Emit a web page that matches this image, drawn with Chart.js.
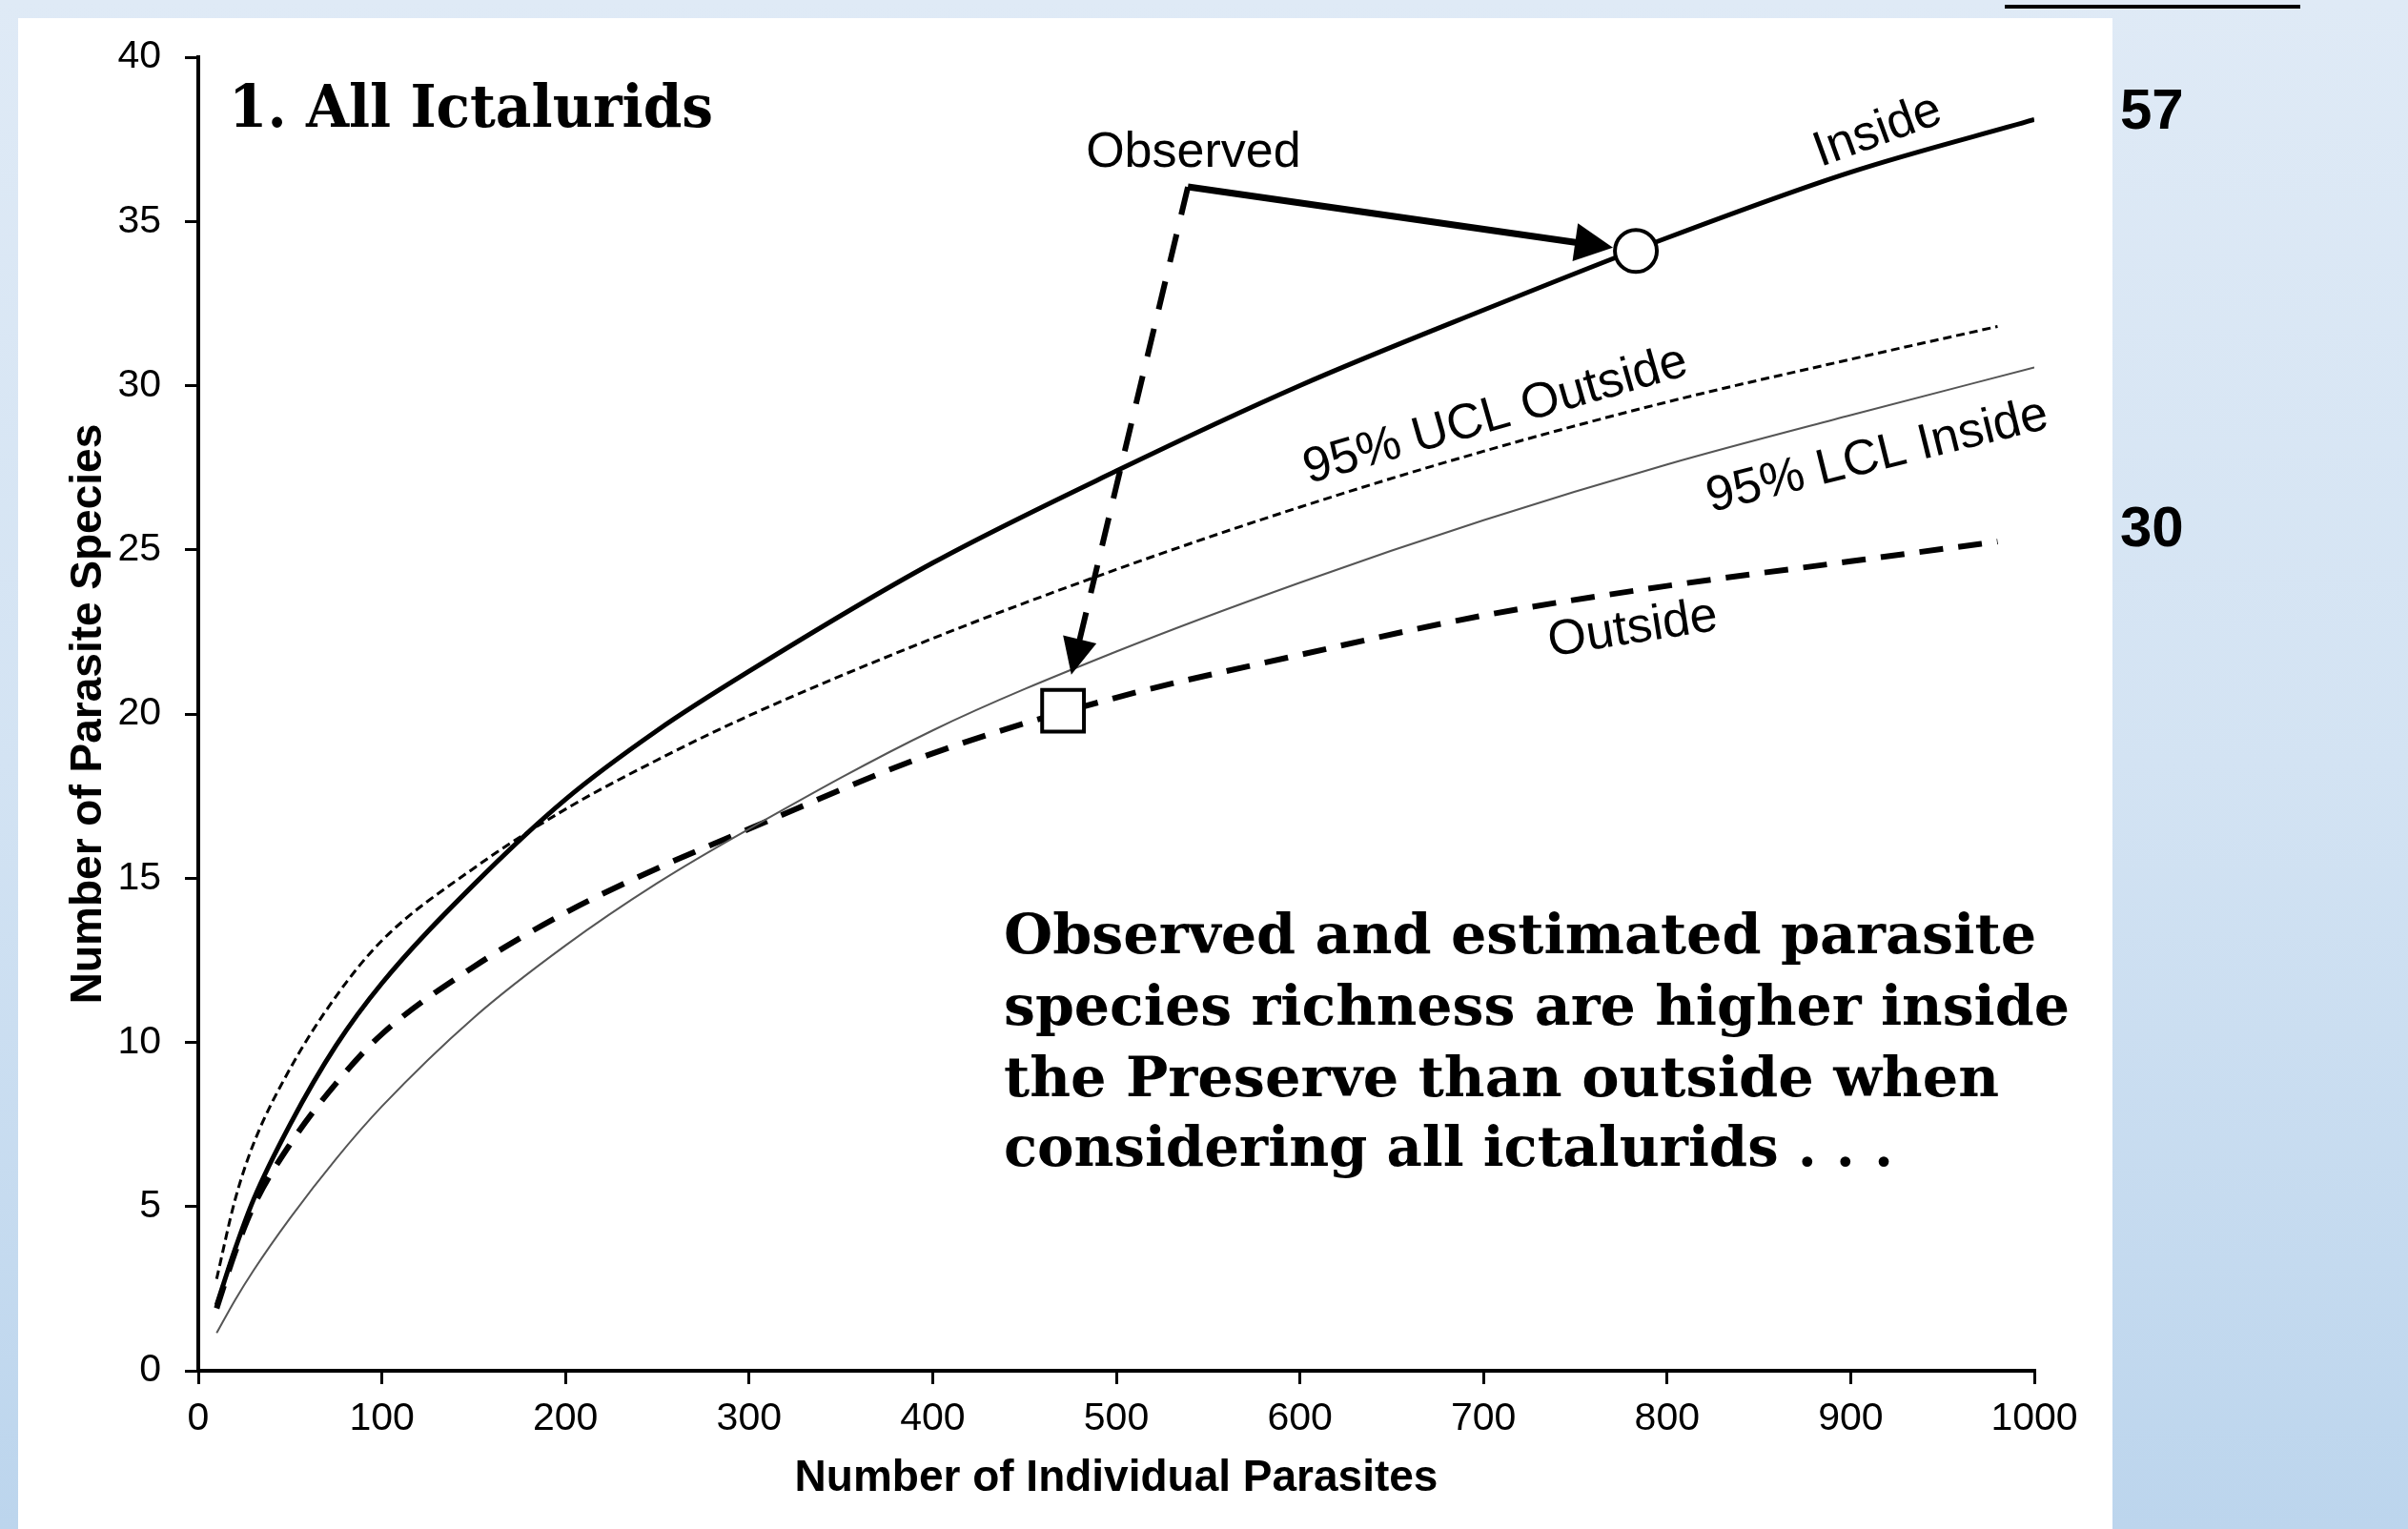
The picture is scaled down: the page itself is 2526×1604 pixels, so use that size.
<!DOCTYPE html>
<html>
<head>
<meta charset="utf-8">
<title>1. All Ictalurids</title>
<script src="https://cdn.jsdelivr.net/npm/chart.js@4.4.1/dist/chart.umd.min.js"></script>
<style>
  html, body { margin: 0; padding: 0; }
  body {
    width: 2526px; height: 1604px; position: relative; overflow: hidden;
    background: linear-gradient(to bottom, #dfeaf6 0%, #d3e3f3 50%, #bcd5ed 100%);
  }
  .top-rule { position: absolute; left: 2103px; top: 5px; width: 310px; height: 4px; background: #000; }
  .panel { position: absolute; left: 19px; top: 19px; width: 2197px; height: 1585px; background: #fff; }
  #chart { position: absolute; left: 0; top: 0; }
  .slab {
    position: absolute; white-space: nowrap; line-height: 1; color: #000;
    font-family: 'DejaVu Serif Condensed', 'DejaVu Serif', serif; font-stretch: condensed; font-weight: bold;
    transform-origin: 0 0;
  }
  .title { left: 240px; top: 81px; font-size: 61px; }
  .note { left: 1053px; font-size: 58px; }
  .count {
    position: absolute; left: 2224px; font-family: 'Liberation Sans', Arial, sans-serif;
    font-weight: bold; font-size: 60px; line-height: 1; color: #000;
  }
</style>
</head>
<body>
<div class="top-rule"></div>
<div class="panel"></div>
<canvas id="chart" width="2526" height="1604"></canvas>

<div class="slab title" data-w="508">1. All Ictalurids</div>
<div class="slab note" data-w="1083" style="top:951px">Observed and estimated parasite</div>
<div class="slab note" data-w="1118" style="top:1026px">species richness are higher inside</div>
<div class="slab note" data-w="1044" style="top:1101px">the Preserve than outside when</div>
<div class="slab note" data-w="933" style="top:1174px">considering all ictalurids . . .</div>
<div class="count" style="top:85px">57</div>
<div class="count" style="top:523px">30</div>

<script>
// 数据：稀疏曲线（个体数 -> 寄生虫物种数）
const insideSizes = [10, 20, 30, 50, 75, 100, 150, 200, 250, 300, 400, 500, 600, 700, 800, 900, 1000];
const insideRichness = [2.0, 3.7, 5.2, 7.5, 9.9, 11.8, 14.8, 17.4, 19.5, 21.3, 24.6, 27.4, 30.0, 32.3, 34.5, 36.5, 38.1];
const lclInside = [1.15, 2.15, 3.05, 4.65, 6.45, 8.05, 10.75, 12.95, 14.85, 16.5, 19.5, 21.9, 24.0, 25.9, 27.6, 29.1, 30.55];

const outsideSizes = [10, 20, 30, 50, 75, 100, 150, 200, 250, 300, 400, 500, 600, 700, 800, 900, 980];
const outsideRichness = [1.9, 3.6, 5.0, 6.9, 8.75, 10.25, 12.3, 13.95, 15.3, 16.5, 18.8, 20.5, 21.8, 23.0, 23.9, 24.65, 25.25];
const uclOutside = [2.8, 5.2, 6.9, 9.2, 11.4, 13.1, 15.3, 17.1, 18.6, 19.95, 22.3, 24.4, 26.3, 28.0, 29.5, 30.8, 31.8];

// 观测值：Inside（圆）和 Outside（方）
const observedSizes = [783, 471];
const observedRichness = [34.1, 20.1];

// 坐标轴
const xMin = 0, xMax = 1000, xStep = 100;
const yMin = 0, yMax = 40, yStep = 5;

// 注释（数据坐标）
const arrowVertex = [539, 36.05];
const solidArrowTip = [770.5, 34.2];
const dashedArrowTip = [475.5, 21.2];
const curveLabels = [
  { text: 'Inside', x: 914, y: 37.85, angle: -20 },
  { text: '95% UCL Outside', x: 706, y: 29.2, angle: -16 },
  { text: '95% LCL Inside', x: 914, y: 27.96, angle: -14 },
  { text: 'Outside', x: 781, y: 22.7, angle: -9 },
  { text: 'Observed', x: 542, y: 37.2, angle: 0 }
];

function toPoints(xs, ys) {
  return xs.map((x, i) => ({ x: x, y: ys[i] }));
}

// 画箭头
function drawArrow(ctx, from, to, opts) {
  const dx = to[0] - from[0], dy = to[1] - from[1];
  const len = Math.sqrt(dx * dx + dy * dy);
  const ux = dx / len, uy = dy / len;
  const bx = to[0] - ux * opts.head, by = to[1] - uy * opts.head;

  ctx.save();
  ctx.strokeStyle = '#000';
  ctx.fillStyle = '#000';
  ctx.lineWidth = opts.width;
  ctx.setLineDash(opts.dash);
  ctx.beginPath();
  ctx.moveTo(from[0], from[1]);
  ctx.lineTo(bx + ux * 2, by + uy * 2);
  ctx.stroke();
  ctx.setLineDash([]);
  ctx.beginPath();
  ctx.moveTo(to[0], to[1]);
  ctx.lineTo(bx - uy * opts.half, by + ux * opts.half);
  ctx.lineTo(bx + uy * opts.half, by - ux * opts.half);
  ctx.closePath();
  ctx.fill();
  ctx.restore();
}

const annotationPlugin = {
  id: 'annotations',
  afterDatasetsDraw(chart) {
    const ctx = chart.ctx;
    const xs = chart.scales.x, ys = chart.scales.y;
    const px = p => [xs.getPixelForValue(p[0]), ys.getPixelForValue(p[1])];

    const v = px(arrowVertex);
    drawArrow(ctx, v, px(solidArrowTip), { width: 7, dash: [], head: 40, half: 20 });
    drawArrow(ctx, v, px(dashedArrowTip), { width: 6, dash: [30, 21], head: 38, half: 18 });

    // 曲线标签
    ctx.save();
    ctx.fillStyle = '#000';
    ctx.font = '52px "Liberation Sans", Arial, sans-serif';
    ctx.textAlign = 'center';
    ctx.textBaseline = 'alphabetic';
    curveLabels.forEach(l => {
      ctx.save();
      ctx.translate(xs.getPixelForValue(l.x), ys.getPixelForValue(l.y));
      ctx.rotate(l.angle * Math.PI / 180);
      ctx.fillText(l.text, 0, 52 * 0.358);
      ctx.restore();
    });
    ctx.restore();
  }
};

const axisFont = { family: '"Liberation Sans", Arial, sans-serif', size: 41 };
const titleFont = { family: '"Liberation Sans", Arial, sans-serif', size: 46, weight: 'bold' };

new Chart(document.getElementById('chart'), {
  type: 'line',
  data: {
    datasets: [
      {
        label: 'Observed inside',
        data: toPoints(observedSizes.slice(0, 1), observedRichness.slice(0, 1)),
        showLine: false, pointStyle: 'circle', pointRadius: 22,
        pointBackgroundColor: '#fff', pointBorderColor: '#000', pointBorderWidth: 4, order: 0
      },
      {
        label: 'Observed outside',
        data: toPoints(observedSizes.slice(1), observedRichness.slice(1)),
        showLine: false, pointStyle: 'rect', pointRadius: 31,
        pointBackgroundColor: '#fff', pointBorderColor: '#000', pointBorderWidth: 4, order: 0
      },
      {
        label: 'Inside',
        data: toPoints(insideSizes, insideRichness),
        borderColor: '#000', borderWidth: 5, pointRadius: 0, order: 1
      },
      {
        label: '95% UCL Outside',
        data: toPoints(outsideSizes, uclOutside),
        borderColor: '#000', borderWidth: 3, borderDash: [9, 5], pointRadius: 0, order: 1
      },
      {
        label: '95% LCL Inside',
        data: toPoints(insideSizes, lclInside),
        borderColor: '#555', borderWidth: 2, pointRadius: 0, order: 1
      },
      {
        label: 'Outside',
        data: toPoints(outsideSizes, outsideRichness),
        borderColor: '#000', borderWidth: 6, borderDash: [25, 16], pointRadius: 0, order: 1
      }
    ]
  },
  options: {
    responsive: false,
    animation: false,
    layout: { padding: { left: 0, top: 60, right: 392, bottom: 0 } },
    plugins: { legend: { display: false }, tooltip: { enabled: false } },
    elements: { line: { cubicInterpolationMode: 'monotone', borderJoinStyle: 'round' } },
    scales: {
      x: {
        type: 'linear', min: xMin, max: xMax,
        afterFit(scale) { scale.height = 166; },
        ticks: { stepSize: xStep, color: '#000', font: axisFont, padding: 12, maxRotation: 0, callback: v => String(v) },
        grid: { drawOnChartArea: false, drawTicks: true, tickLength: 14, color: '#000', lineWidth: 3 },
        border: { display: true, color: '#000', width: 4 },
        title: { display: true, text: 'Number of Individual Parasites', color: '#000', font: titleFont, padding: { top: 0, bottom: 25 } }
      },
      y: {
        min: yMin, max: yMax,
        afterFit(scale) { scale.width = 208; },
        ticks: { stepSize: yStep, color: '#000', font: axisFont, padding: 25, callback: v => String(v) },
        grid: { drawOnChartArea: false, drawTicks: true, tickLength: 14, color: '#000', lineWidth: 3 },
        border: { display: true, color: '#000', width: 4 },
        title: { display: true, text: 'Number of Parasite Species', color: '#000', font: titleFont, padding: { top: 66, bottom: 0 } }
      }
    }
  },
  plugins: [annotationPlugin]
});

// 文本宽度对齐参考图
function fitText() {
  document.querySelectorAll('[data-w]').forEach(el => {
    el.style.transform = '';
    const w = el.getBoundingClientRect().width;
    el.style.transform = 'scaleX(' + (el.dataset.w / w) + ')';
  });
}
fitText();
if (document.fonts) document.fonts.ready.then(fitText);
</script>
</body>
</html>
